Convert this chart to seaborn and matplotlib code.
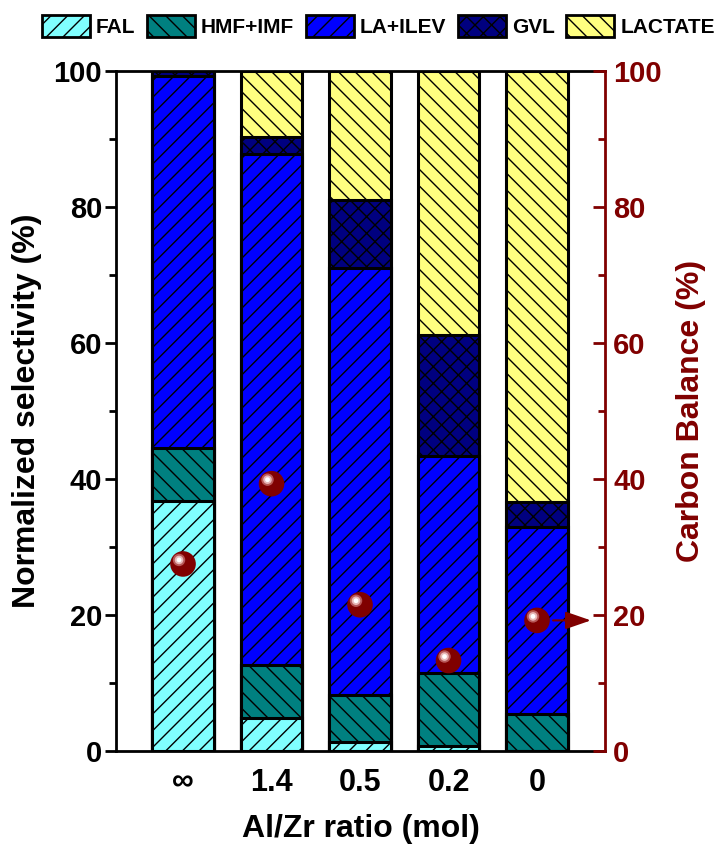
import numpy as np
import pandas as pd
import matplotlib
matplotlib.use("Agg")
import matplotlib.pyplot as plt
import matplotlib.transforms as mtransforms
from matplotlib.patches import Patch
from matplotlib.ticker import MultipleLocator
import seaborn as sns

# Product distribution per Al/Zr ratio (normalized selectivity, %)
ratios = ["\u221e", "1.4", "0.5", "0.2", "0"]
fal = [36.8, 4.8, 1.3, 0.8, 0.0]
hmf_imf = [7.8, 7.9, 7.0, 10.7, 5.5]
la_ilev = [54.7, 75.1, 62.7, 31.8, 27.5]
gvl = [0.7, 2.4, 10.0, 17.9, 3.6]
lactate = [0.0, 9.8, 19.0, 38.8, 63.4]

# Carbon balance (%), right axis
carbon_balance = [27.5, 39.3, 21.5, 13.3, 19.2]

series_names = ["FAL", "HMF+IMF", "LA+ILEV", "GVL", "LACTATE"]
series_values = [fal, hmf_imf, la_ilev, gvl, lactate]
series_colors = ["#80FFFF", "#008080", "#0000FF", "#000080", "#FFFF80"]
series_hatches = ["//", "\\\\", "//", "xx", "\\\\"]

dark_red = "#800000"

sns.set_theme(style="white")
plt.rcParams["font.family"] = ["Liberation Sans", "DejaVu Sans"]
plt.rcParams["font.weight"] = "bold"
plt.rcParams["hatch.linewidth"] = 1.0
plt.rcParams["text.color"] = "black"
plt.rcParams["axes.labelcolor"] = "black"
plt.rcParams["xtick.color"] = "black"
plt.rcParams["ytick.color"] = "black"

df = pd.DataFrame({"ratio": ratios})
for name, vals in zip(series_names, series_values):
    df[name] = vals
# cumulative tops, so each layer is drawn from zero and covered by the layers below it
cum = df[series_names].cumsum(axis=1)
for name in series_names:
    df["top_" + name] = cum[name]

fig = plt.figure(figsize=(7.18, 8.46), dpi=100)
ax = fig.add_axes([0.1616, 0.1123, 0.681, 0.804])

for name, color, hatch in reversed(list(zip(series_names, series_colors, series_hatches))):
    sns.barplot(data=df, x="ratio", y="top_" + name, order=ratios, color=color,
                saturation=1, width=0.70, edgecolor="black", linewidth=2.2,
                hatch=hatch, errorbar=None, ax=ax, zorder=2)

ax.set_xlim(-0.757, 4.768)
ax.set_ylim(0, 100)
ax.set_xticks(np.arange(len(ratios)))
ax.set_xticklabels(ratios, fontsize=22, fontweight="bold", color="black")
ax.set_xlabel("Al/Zr ratio (mol)", fontsize=23, fontweight="bold", labelpad=12,
              color="black")
ax.set_ylabel("Normalized selectivity (%)", fontsize=23, fontweight="bold",
              labelpad=8, color="black")
ax.yaxis.set_major_locator(MultipleLocator(20))
ax.yaxis.set_minor_locator(MultipleLocator(10))
ax.tick_params(axis="y", which="major", direction="out", length=8, width=2,
               labelsize=21, color="black", labelcolor="black", left=True, pad=2)
ax.tick_params(axis="y", which="minor", direction="out", length=5, width=2,
               color="black", left=True)
ax.tick_params(axis="x", which="major", direction="in", length=3, width=1,
               color="#888888", labelcolor="black", bottom=True, top=True, pad=12)
for lab in ax.get_yticklabels():
    lab.set_fontweight("bold")
for side in ["left", "bottom", "top"]:
    ax.spines[side].set_visible(True)
    ax.spines[side].set_color("black")
    ax.spines[side].set_linewidth(2)
ax.spines["right"].set_visible(False)

# Carbon balance on a twin axis
ax2 = ax.twinx()
ax2.set_ylim(0, 100)
ax2.yaxis.set_major_locator(MultipleLocator(20))
ax2.yaxis.set_minor_locator(MultipleLocator(10))
ax2.tick_params(axis="y", which="major", direction="in", length=9, width=2,
                labelsize=21, color=dark_red, labelcolor=dark_red, pad=6)
ax2.tick_params(axis="y", which="minor", direction="in", length=5, width=2,
                color=dark_red)
for lab in ax2.get_yticklabels():
    lab.set_fontweight("bold")
ax2.set_ylabel("Carbon Balance (%)", fontsize=23, fontweight="bold",
               color=dark_red, labelpad=10)
for side in ["left", "bottom", "top"]:
    ax2.spines[side].set_visible(False)
ax2.spines["right"].set_visible(True)
ax2.spines["right"].set_color(dark_red)
ax2.spines["right"].set_linewidth(2)

positions = np.arange(len(ratios))
sns.scatterplot(x=positions, y=carbon_balance, s=340, color=dark_red,
                edgecolor="none", ax=ax2, zorder=5, legend=False)
# specular highlight on each sphere
shift = mtransforms.ScaledTranslation(-4 / 100, 4 / 100, fig.dpi_scale_trans)
ax2.scatter(positions, carbon_balance, s=80, color="#b85858", edgecolor="none",
            transform=ax2.transData + shift, zorder=6)
ax2.scatter(positions, carbon_balance, s=38, color="#e8b8b8", edgecolor="none",
            transform=ax2.transData + shift, zorder=7)
ax2.scatter(positions, carbon_balance, s=12, color="white", edgecolor="none",
            transform=ax2.transData + shift, zorder=8)

# arrow pointing from the last point to the right axis
ax2.annotate("", xy=(4.64, carbon_balance[-1]), xytext=(4.15, carbon_balance[-1]),
             arrowprops=dict(arrowstyle="-|>,head_length=1.3,head_width=0.45",
                             color=dark_red, lw=1.5), zorder=6)

ax.set_zorder(1)
ax2.set_zorder(2)
ax2.patch.set_visible(False)

handles = [Patch(facecolor=c, hatch=h, edgecolor="black", linewidth=2)
           for c, h in zip(series_colors, series_hatches)]
leg = fig.legend(handles, series_names, loc="center", bbox_to_anchor=(0.527, 0.969),
                 ncol=5, frameon=False, handlelength=2.3, handleheight=1.25,
                 columnspacing=0.55, handletextpad=0.3, borderpad=0.1,
                 prop={"size": 15, "weight": "bold"})
for t in leg.get_texts():
    t.set_color("black")

fig.savefig("out.png", dpi=100)
